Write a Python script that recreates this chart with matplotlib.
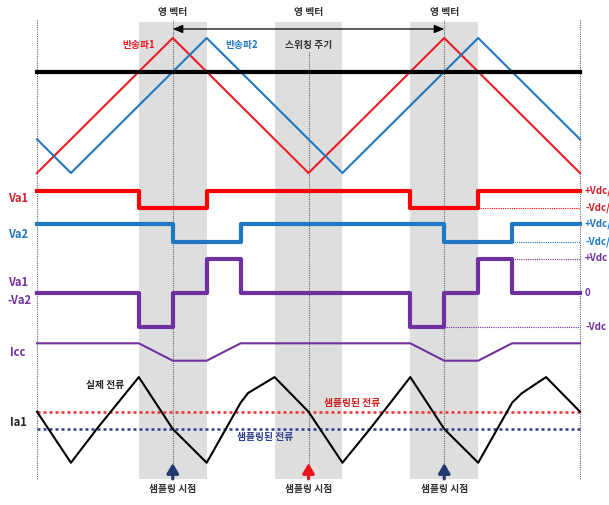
import numpy as np
import matplotlib.pyplot as plt
from matplotlib.patches import Rectangle

plt.rcParams['font.family'] = ['Noto Sans CJK KR', 'DejaVu Sans']

# ---- data (time in units of 1/8 switching period) ----
carrier1_t = [0, 4, 8, 12, 16]
carrier1_v = [0, 1, 0, 1, 0]
carrier2_t = [0, 1, 5, 9, 13, 16]
carrier2_v = [0.25, 0, 1, 0, 1, 0.25]
reference = 0.75

va1_t = [0, 3, 5, 11, 13, 16]
va1_v = [1, -1, 1, -1, 1, 1]
va2_t = [0, 4, 6, 12, 14, 16]
va2_v = [1, -1, 1, -1, 1, 1]

diff_t = [0, 3, 4, 5, 6, 11, 12, 13, 14, 16]
diff_v = [0, -1, 0, 1, 0, -1, 0, 1, 0, 0]

icc_t = [0, 3, 4, 5, 6, 11, 12, 13, 14, 16]
icc_v = [1, 1, 0, 0, 1, 1, 0, 0, 1, 1]

ia1_t = [0, 1, 1.76, 3, 4, 5, 6, 6.22, 7, 8, 9, 9.81, 11, 12, 13, 14, 14.28, 15, 16]
ia1_v = [1.0, -1.95, 0, 3.0, 0, -1.95, 1.52, 2.08, 3.0, 1.0, -1.95, 0, 3.0, 0, -1.95,
         1.52, 2.06, 3.0, 1.0]
sampled_red = 1.0    # sampled current at carrier valley
sampled_navy = 0.0   # sampled current at carrier peak

zero_vector_t = [4, 8, 12]
sample_t = [4, 8, 12]
sample_colors = ['#1F3A6E', '#E8141E', '#1F3A6E']

# ---- layout (pixel rows) ----
W, H = 609, 505
X0, UNIT = 37, 543 / 16.0


def px(x):
    return (x - X0) / UNIT


def row(vals, base, scale):
    return base - scale * np.asarray(vals, dtype=float)


RED = '#FF0000'
RED_C = '#EE1C25'
BLUE = '#1F78C1'
PURPLE = '#7030A0'
NAVY = '#2E3F8C'
GREY_BAND = '#DEDEDE'

fig = plt.figure(figsize=(W / 100, H / 100), dpi=100)
ax = fig.add_axes([0, 0, 1, 1])
ax.set_xlim(px(0), px(W))
ax.set_ylim(H, 0)
ax.axis('off')

# grey zero-vector bands
for t in zero_vector_t:
    ax.add_patch(Rectangle((t - 1, 22), 2, 457, color=GREY_BAND, lw=0, zorder=0))

# vertical dotted guides
for t, top in [(0, 20), (16, 20), (4, 20), (12, 20), (8, 52)]:
    ax.plot([t, t], [top, 479], color='#666666', lw=0.8, ls=(0, (1, 1)), zorder=1)

# carriers and reference
ax.plot(carrier1_t, row(carrier1_v, 173, 135), color=RED_C, lw=1.5, zorder=3)
ax.plot(carrier2_t, row(carrier2_v, 173, 135), color=BLUE, lw=1.5, zorder=3)
ax.plot([0, 16], row([reference] * 2, 173, 135), color='black', lw=3, zorder=4)

# switching signals
ax.step(va1_t, row(va1_v, 199.2, 8.5), where='post', color=RED, lw=3, zorder=3)
ax.step(va2_t, row(va2_v, 233, 8.8), where='post', color=BLUE, lw=3, zorder=3)
ax.step(diff_t, row(diff_v, 292.7, 34.2), where='post', color=PURPLE, lw=3, zorder=3)
ax.plot(icc_t, row(icc_v, 360.7, 17.4), color=PURPLE, lw=1.5, zorder=3)

# level extension dotted lines
ax.plot([13, 16], row([-1, -1], 199.2, 8.5), color=RED, lw=0.8, ls=(0, (1, 1)), zorder=2)
ax.plot([14, 16], row([-1, -1], 233, 8.8), color=BLUE, lw=0.8, ls=(0, (1, 1)), zorder=2)
ax.plot([14, 16], row([1, 1], 292.7, 34.2), color=PURPLE, lw=0.8, ls=(0, (1, 1)), zorder=2)
ax.plot([12, 16], row([-1, -1], 292.7, 34.2), color=PURPLE, lw=0.8, ls=(0, (1, 1)), zorder=2)

# phase current and sampled values
ax.plot([0, 16], row([sampled_red] * 2, 429, 17.3), color='#F03030', lw=1.8,
        ls=(0, (1.2, 1.2)), zorder=2)
ax.plot([0, 16], row([sampled_navy] * 2, 429, 17.3), color=NAVY, lw=1.8,
        ls=(0, (1.2, 1.2)), zorder=2)
ax.plot(ia1_t, row(ia1_v, 429, 17.3), color='black', lw=1.5, zorder=3)

# sampling arrows
for t, c in zip(sample_t, sample_colors):
    ax.annotate('', xy=(t, 463), xytext=(t, 479),
                arrowprops=dict(arrowstyle='-|>,head_width=0.35,head_length=0.6',
                                color=c, lw=2.2, shrinkA=0, shrinkB=0), zorder=5)
    ax.text(t, 489, '샘플링 시점', ha='center', va='center', fontsize=7,
            fontweight='bold', color='#333333')

# top annotations
for t in zero_vector_t:
    ax.text(t, 12, '영 벡터', ha='center', va='center', fontsize=7,
            fontweight='bold', color='#333333')
ax.annotate('', xy=(4, 29), xytext=(12, 29),
            arrowprops=dict(arrowstyle='<|-|>,head_width=0.25,head_length=0.6',
                            color='black', lw=0.9, shrinkA=0, shrinkB=0))
ax.text(8, 45, '스위칭 주기', ha='center', va='center', fontsize=7,
        fontweight='bold', color='#333333')
ax.text(px(139), 45, '반송파1', ha='center', va='center', fontsize=7,
        fontweight='bold', color=RED_C)
ax.text(px(242), 45, '반송파2', ha='center', va='center', fontsize=7,
        fontweight='bold', color=BLUE)

# current labels
ax.text(px(105), 385, '실제 전류', ha='center', va='center', fontsize=7,
        fontweight='bold', color='#222222')
ax.text(px(265), 437, '샘플링된 전류', ha='center', va='center', fontsize=7,
        fontweight='bold', color=NAVY)
ax.text(px(352), 403, '샘플링된 전류', ha='center', va='center', fontsize=7,
        fontweight='bold', color='#D02020')

# left row labels
left = px(18)
ax.text(left, 199, 'Va1', ha='center', va='center', fontsize=8, fontweight='bold', color='#D0202A')
ax.text(left, 234, 'Va2', ha='center', va='center', fontsize=8, fontweight='bold', color=BLUE)
ax.text(left, 283, 'Va1', ha='center', va='center', fontsize=8, fontweight='bold', color=PURPLE)
ax.text(px(20), 301, '-Va2', ha='center', va='center', fontsize=8, fontweight='bold', color=PURPLE)
ax.text(left, 353, 'Icc', ha='center', va='center', fontsize=8, fontweight='bold', color=PURPLE)
ax.text(left, 422, 'Ia1', ha='center', va='center', fontsize=8, fontweight='bold', color='#222222')

# right level labels
right = px(585)
for y, s, c in [(191, '+Vdc/2', '#D0202A'), (208, '-Vdc/2', '#D0202A'),
                (224, '+Vdc/2', BLUE), (242, '-Vdc/2', BLUE),
                (258, '+Vdc', PURPLE), (293, '0', PURPLE), (327, '-Vdc', PURPLE)]:
    ax.text(right, y, s, ha='left', va='center', fontsize=7, fontweight='bold', color=c)

fig.savefig('out.png', dpi=100)
